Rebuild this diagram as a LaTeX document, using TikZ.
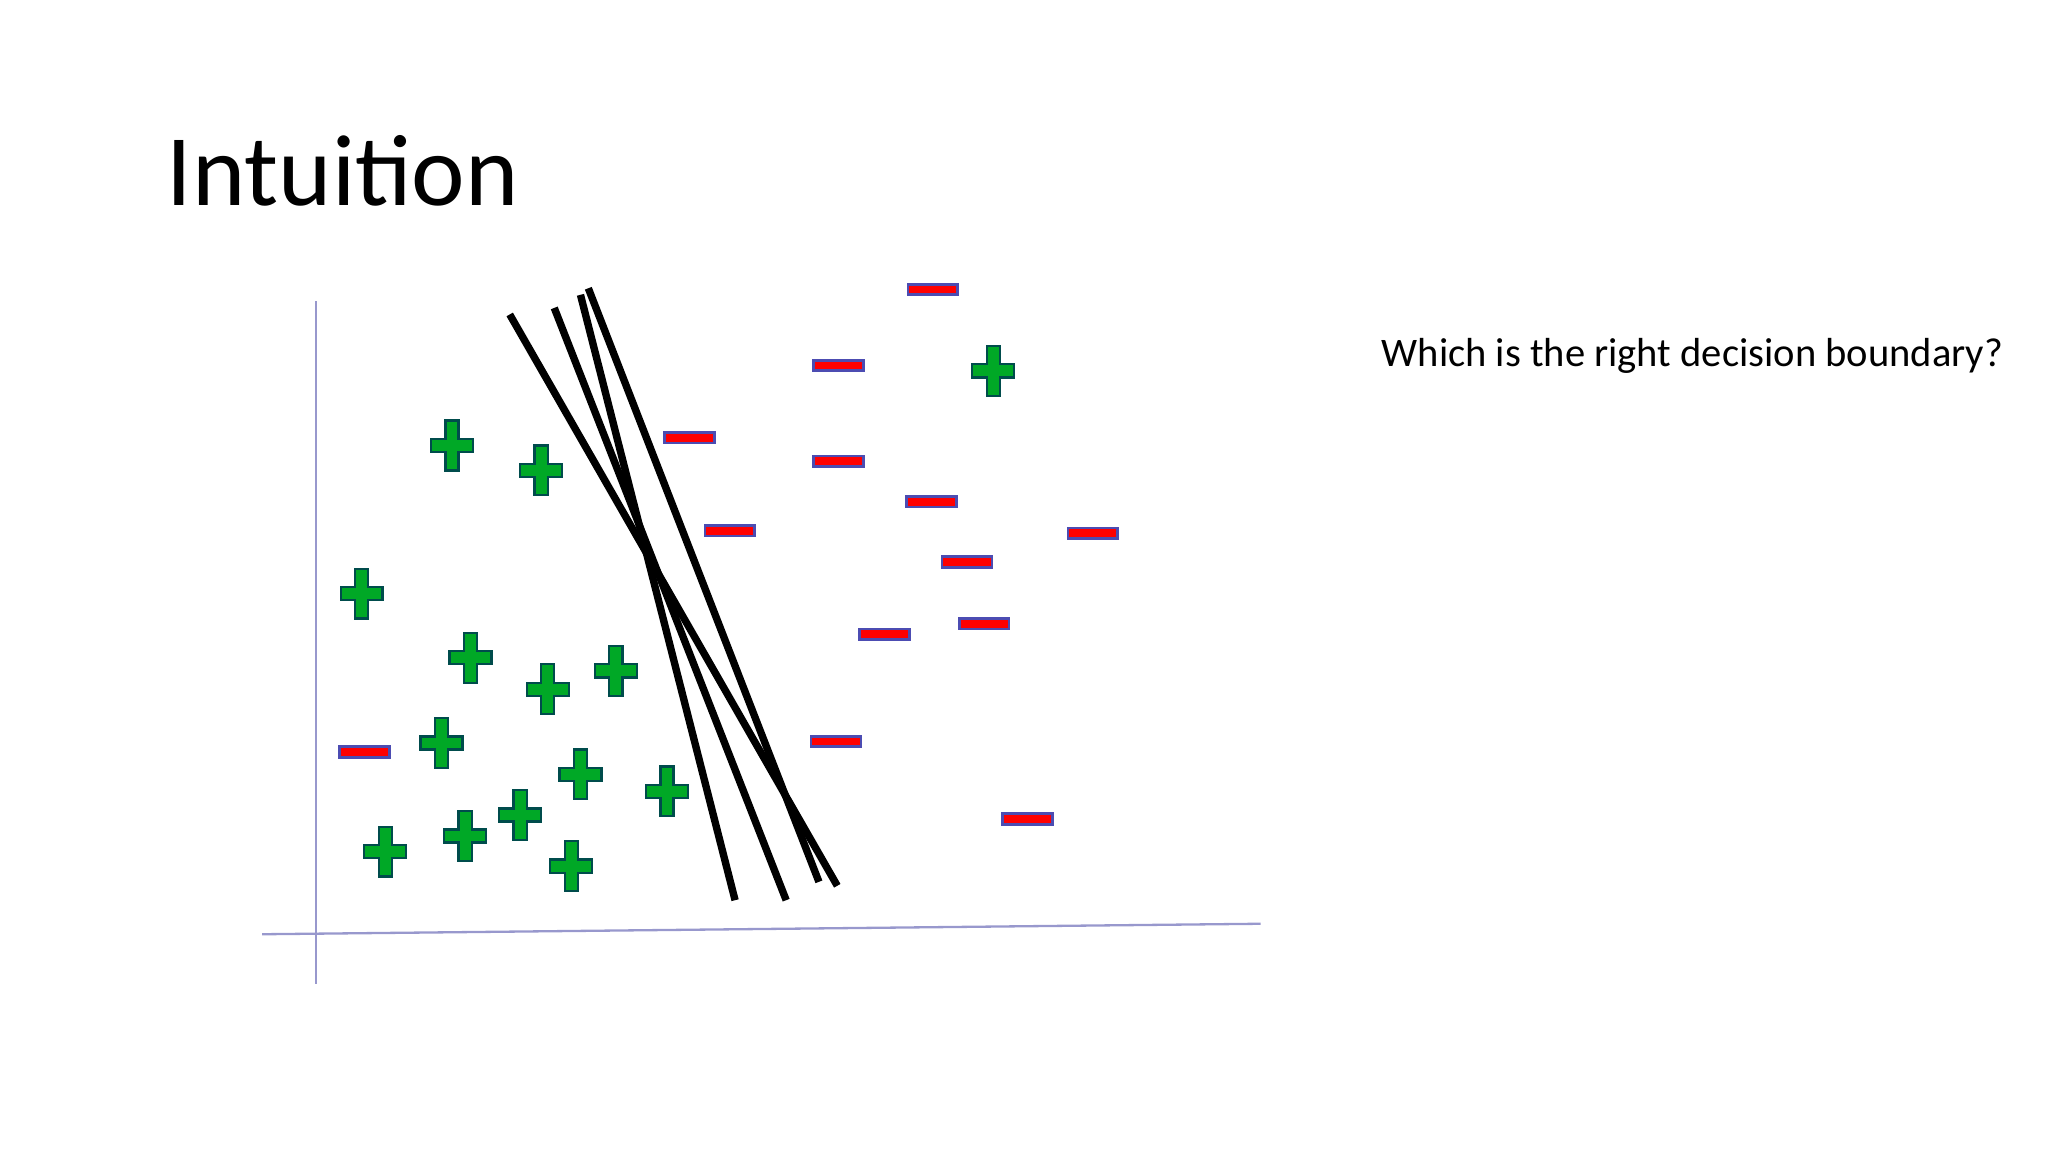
\documentclass[tikz,border=0pt]{standalone}
\usepackage{fontspec}
\setmainfont{Carlito}
\begin{document}
\begin{tikzpicture}[x=0.01cm,y=-0.01cm,
  axis/.style={draw=blue!35!gray!60, line width=0.5pt},
  bound/.style={draw=black, line width=1.6pt},
  minusbox/.style={fill=red, draw=gray!60!blue, line width=0.6pt, minimum width=0.38cm, minimum height=0.08cm, inner sep=0pt},
  plusfill/.style={fill=green!60!black!85!cyan, draw=teal!60!black, line width=0.5pt}]
\useasboundingbox (0,0) rectangle (1563,879);
\node[anchor=west, font=\fontsize{22}{26}\selectfont] (title) at (115,130) {Intuition};
\node[anchor=west, font=\fontsize{8.8}{11}\selectfont] (q) at (1042,272) {Which is the right decision boundary?};
\draw[axis] (241,230) -- (241,751);
\draw[axis] (200,713) -- (962,705);
\newcommand\pl[2]{\draw[plusfill] (#1-5,#2-19) -- (#1+5,#2-19) -- (#1+5,#2-5) -- (#1+16,#2-5) -- (#1+16,#2+5) -- (#1+5,#2+5) -- (#1+5,#2+19) -- (#1-5,#2+19) -- (#1-5,#2+5) -- (#1-16,#2+5) -- (#1-16,#2-5) -- (#1-5,#2-5) -- cycle;}
\foreach \x/\y in {345/340,413/359,276/453,359/502,418/526,470/512,337/567,443/591,509/604,397/622,355/638,294/650,436/661,758/283} {\pl{\x}{\y}}
\foreach \x/\y [count=\i] in {712/221,640/279,526/334,640/352,711/383,557/405,834/407,738/429,675/484,751/476,638/566,784/625,278/574} {\node[minusbox] (m\i) at (\x,\y) {};}
\coordinate (a1) at (389,240); \coordinate (b1) at (639,676);
\coordinate (a2) at (423,235); \coordinate (b2) at (600,687);
\coordinate (a3) at (443,225); \coordinate (b3) at (561,687);
\coordinate (a4) at (449,220); \coordinate (b4) at (625,673);
\foreach \i in {1,...,4} {\draw[bound] (a\i) -- (b\i);}
\end{tikzpicture}
\end{document}
